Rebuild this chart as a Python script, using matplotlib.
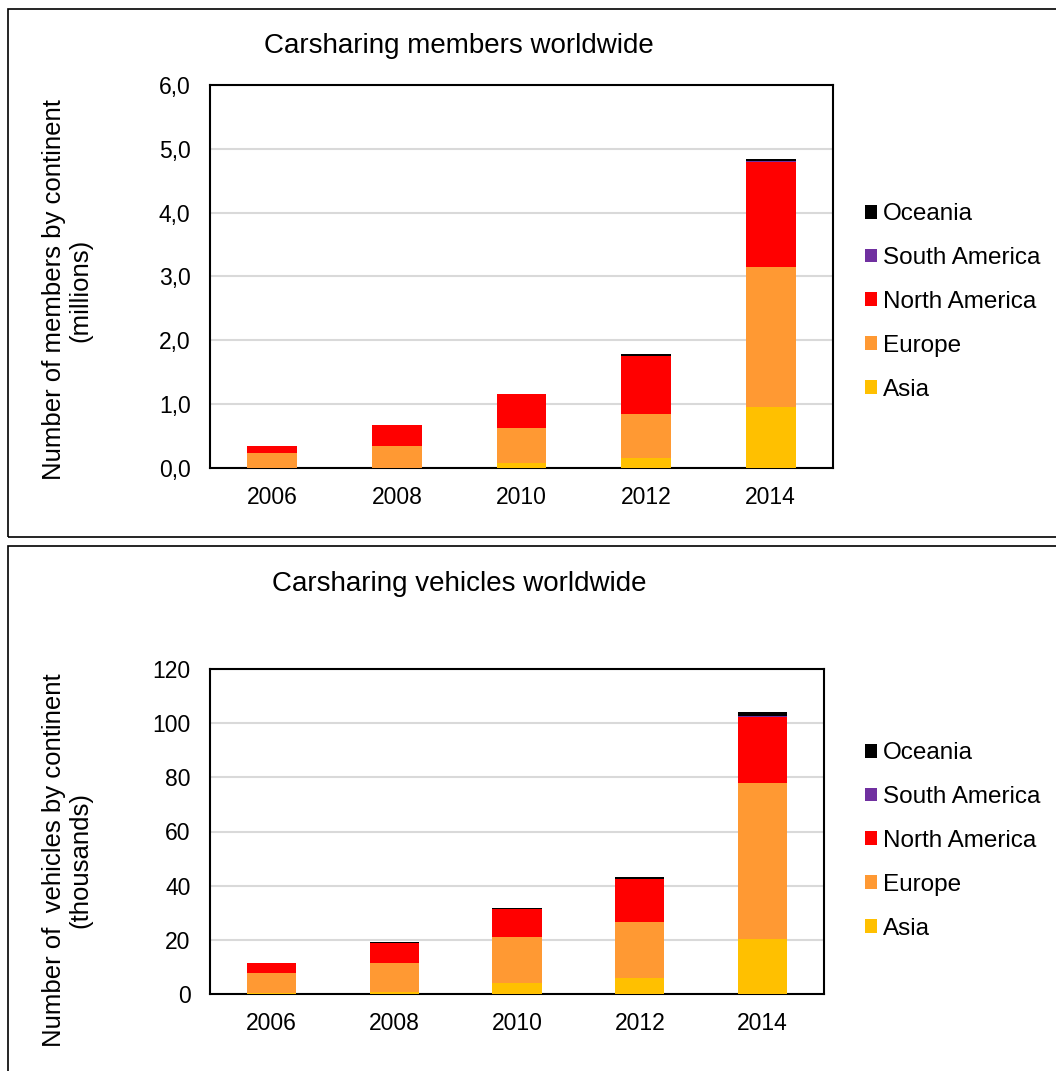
import matplotlib
matplotlib.use("Agg")
import matplotlib.pyplot as plt
from matplotlib.patches import Rectangle, Patch

plt.rcParams['font.family'] = ['Liberation Sans', 'DejaVu Sans']

years = ['2006', '2008', '2010', '2012', '2014']
continents = ['Asia', 'Europe', 'North America', 'South America', 'Oceania']
colors = ['#FFC000', '#FF9933', '#FF0000', '#7030A0', '#000000']

# members, millions
members_asia = [0.005, 0.005, 0.083, 0.15, 0.95]
members_europe = [0.225, 0.34, 0.545, 0.695, 2.205]
members_namerica = [0.115, 0.325, 0.525, 0.905, 1.64]
members_samerica = [0.0, 0.001, 0.002, 0.004, 0.01]
members_oceania = [0.003, 0.005, 0.01, 0.03, 0.035]

# vehicles, thousands
vehicles_asia = [0.3, 0.7, 4.05, 5.9, 20.3]
vehicles_europe = [7.6, 10.7, 16.85, 20.6, 57.7]
vehicles_namerica = [3.4, 7.5, 10.5, 15.8, 24.4]
vehicles_samerica = [0.0, 0.05, 0.1, 0.2, 0.3]
vehicles_oceania = [0.1, 0.25, 0.25, 0.8, 1.3]

members = [members_asia, members_europe, members_namerica, members_samerica, members_oceania]
vehicles = [vehicles_asia, vehicles_europe, vehicles_namerica, vehicles_samerica, vehicles_oceania]

W, H = 1056, 1071
fig = plt.figure(figsize=(W / 100, H / 100), dpi=100)

# panel frames
fig.patches.append(Rectangle((8 / W, 1 - 537 / H), 1.1, (537 - 9) / H, transform=fig.transFigure,
                             fill=False, edgecolor='black', linewidth=1.2))
fig.patches.append(Rectangle((8 / W, -0.05), 1.1, (1071 - 546) / H + 0.05, transform=fig.transFigure,
                             fill=False, edgecolor='black', linewidth=1.2))


def draw_panel(rect, data, ymax, step, fmt, title, title_y, ylabel, ylabel_y, leg_y):
    ax = fig.add_axes(rect)
    x = list(range(len(years)))
    bottom = [0.0] * len(years)
    for vals, col in zip(data, colors):
        ax.bar(x, vals, width=0.4, bottom=bottom, color=col, edgecolor='none', zorder=3)
        bottom = [b + v for b, v in zip(bottom, vals)]
    ax.set_xlim(-0.5, len(years) - 0.5)
    ax.set_ylim(0, ymax)
    ticks = [i * step for i in range(int(round(ymax / step)) + 1)]
    ax.set_yticks(ticks)
    ax.set_yticklabels([fmt(t) for t in ticks])
    ax.set_xticks(x)
    ax.set_xticklabels(years)
    ax.tick_params(length=0, labelsize=16.5)
    ax.tick_params(axis='x', pad=13)
    ax.tick_params(axis='y', pad=14)
    ax.yaxis.grid(True, color='#D9D9D9', linewidth=1.5, zorder=0)
    ax.set_axisbelow(True)
    for s in ax.spines.values():
        s.set_linewidth(1.5)
    fig.text(459 / W, 1 - title_y / H, title, ha='center', va='center', fontsize=20)
    fig.text(67 / W, 1 - ylabel_y / H, ylabel, rotation=90, ha='center', va='center',
             multialignment='center', fontsize=18.5, linespacing=1.1)
    handles = [Patch(facecolor=c, edgecolor='none') for c in colors]
    ax.legend(handles[::-1], continents[::-1], loc='center left',
              bbox_to_anchor=(855 / W, 1 - leg_y / H), bbox_transform=fig.transFigure,
              frameon=False, fontsize=17.5, handlelength=0.5, handleheight=0.5,
              handletextpad=0.25, labelspacing=0.9, borderaxespad=0)
    return ax


draw_panel([210 / W, 1 - 468 / H, 623 / W, 383 / H], members, 6.0, 1.0,
           lambda t: f"{t:.1f}".replace('.', ','), 'Carsharing members worldwide', 46,
           'Number of members by continent\n(millions)', 290, 302)
draw_panel([210 / W, 1 - 994 / H, 614 / W, 325 / H], vehicles, 120, 20,
           lambda t: f"{int(t)}", 'Carsharing vehicles worldwide', 584,
           'Number of  vehicles by continent\n(thousands)', 860, 841)

fig.savefig('out.png', dpi=100)
